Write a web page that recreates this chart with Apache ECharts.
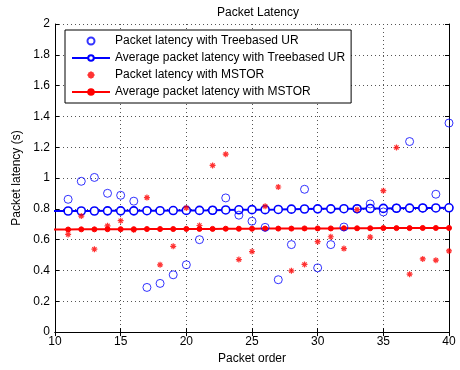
<!DOCTYPE html>
<html>
<head>
<meta charset="utf-8">
<script src="https://cdn.jsdelivr.net/npm/echarts@6/dist/echarts.min.js"></script>
<style>
  html, body { margin: 0; padding: 0; background: #fff; }
  #chart { width: 460px; height: 370px; }
</style>
</head>
<body>
<div id="chart"></div>
<script>
// packet order 11..40
var packetOrder = [11,12,13,14,15,16,17,18,19,20,21,22,23,24,25,26,27,28,29,30,31,32,33,34,35,36,37,38,39,40];
var treeLatency = [0.862,0.979,1.004,0.901,0.888,0.85,0.29,0.316,0.372,0.437,0.60,0.79,0.871,0.759,0.72,0.68,0.34,0.568,0.927,0.417,0.568,0.682,0.80,0.832,0.78,0.805,1.237,0.805,0.895,1.357];
var treeAvg = [0.786,0.786,0.786,0.787,0.787,0.787,0.788,0.788,0.789,0.79,0.79,0.791,0.793,0.794,0.795,0.795,0.796,0.798,0.799,0.80,0.80,0.801,0.801,0.802,0.803,0.804,0.805,0.806,0.806,0.807];
var mstorLatency = [0.634,0.753,0.538,0.69,0.723,0.663,0.873,0.437,0.557,0.806,0.692,1.082,1.155,0.471,0.523,0.817,0.942,0.398,0.439,0.587,0.619,0.542,0.795,0.617,0.918,1.198,0.376,0.475,0.467,0.527];
var mstorAvg = [0.666,0.667,0.667,0.668,0.668,0.668,0.669,0.669,0.669,0.67,0.67,0.67,0.671,0.671,0.671,0.672,0.672,0.672,0.673,0.673,0.673,0.674,0.674,0.674,0.675,0.675,0.675,0.676,0.676,0.676];
// earlier packets (outside the shown range, clipped)
var treeAvgBefore = 0.785;
var mstorAvgBefore = 0.665;

var star = 'path://M0,-10L0,10M-10,0L10,0M-7,-7L7,7M-7,7L7,-7';

function pairs(xs, ys) {
  return xs.map(function (x, i) { return [x, ys[i]]; });
}

var chart = echarts.init(document.getElementById('chart'));
var font = 'Liberation Sans, Arial, sans-serif';

var axisCommon = {
  axisLine: { show: true, lineStyle: { color: '#000', width: 1 } },
  axisTick: { show: true, inside: true, length: 4, lineStyle: { color: '#000' } },
  axisLabel: { color: '#000', fontSize: 12, fontFamily: font },
};

chart.setOption({
  animation: false,
  backgroundColor: '#fff',
  title: {
    text: 'Packet Latency',
    left: 253,
    textAlign: 'center',
    top: 2,
    textStyle: { fontSize: 12, fontWeight: 'normal', color: '#000', fontFamily: font },
  },
  legend: {
    orient: 'vertical',
    left: 65,
    top: 30,
    backgroundColor: '#fff',
    borderColor: '#000',
    borderWidth: 1,
    borderRadius: 0,
    padding: [4, 6, 4, 6],
    itemGap: 3,
    itemWidth: 38,
    itemHeight: 7,
    textStyle: { fontSize: 12, color: '#000', fontFamily: font, lineHeight: 14 },
    data: [
      'Packet latency with Treebased UR',
      'Average packet latency with Treebased UR',
      'Packet latency with MSTOR',
      'Average packet latency with MSTOR',
    ],
  },
  grid: { left: 55, right: 11, top: 24, bottom: 36 },
  xAxis: [
    Object.assign({}, axisCommon, {
      type: 'value', min: 10, max: 40, interval: 5,
      name: 'Packet order', nameLocation: 'middle', nameGap: 17,
      nameTextStyle: { fontSize: 12, color: '#000', fontFamily: font },
      axisLabel: { color: '#000', fontSize: 12, fontFamily: font, margin: 4 },
      splitLine: { show: true, lineStyle: { color: '#555', type: [1, 3], width: 1 } },
    }),
    Object.assign({}, axisCommon, {
      type: 'value', min: 10, max: 40, interval: 5, position: 'top',
      axisLabel: { show: false }, splitLine: { show: false },
    }),
  ],
  yAxis: [
    Object.assign({}, axisCommon, {
      type: 'value', min: 0, max: 2, interval: 0.2,
      name: 'Packet latency (s)', nameLocation: 'middle', nameGap: 19,
      nameTextStyle: { fontSize: 12, color: '#000', fontFamily: font },
      axisLabel: { color: '#000', fontSize: 12, fontFamily: font, margin: 5 },
      splitLine: { show: true, lineStyle: { color: '#555', type: [1, 3], width: 1 } },
    }),
    Object.assign({}, axisCommon, {
      type: 'value', min: 0, max: 2, interval: 0.2, position: 'right',
      axisLabel: { show: false }, splitLine: { show: false },
    }),
  ],
  series: [
    {
      name: 'Packet latency with Treebased UR',
      type: 'scatter',
      symbol: 'circle',
      symbolSize: 8,
      itemStyle: { color: 'transparent', borderColor: '#0000ff', borderWidth: 1 },
      data: pairs(packetOrder, treeLatency),
      z: 4,
    },
    {
      name: 'Average packet latency with Treebased UR',
      type: 'line',
      symbol: 'circle',
      symbolSize: 8,
      showAllSymbol: true,
      clip: true,
      lineStyle: { color: '#0000ff', width: 2 },
      itemStyle: { color: '#fff', borderColor: '#0000ff', borderWidth: 1.6 },
      data: [[9, treeAvgBefore]].concat(pairs(packetOrder, treeAvg)),
      z: 3,
    },
    {
      name: 'Packet latency with MSTOR',
      type: 'scatter',
      symbol: star,
      symbolSize: 6,
      itemStyle: { color: '#ff0000', borderColor: '#ff0000', borderWidth: 1.2 },
      data: pairs(packetOrder, mstorLatency),
      z: 5,
    },
    {
      name: 'Average packet latency with MSTOR',
      type: 'line',
      symbol: 'circle',
      symbolSize: 5,
      showAllSymbol: true,
      clip: true,
      lineStyle: { color: '#ff0000', width: 2 },
      itemStyle: { color: '#ff0000', borderColor: '#ff0000', borderWidth: 1 },
      data: [[9, mstorAvgBefore]].concat(pairs(packetOrder, mstorAvg)),
      z: 3,
    },
  ],
});
</script>
</body>
</html>
